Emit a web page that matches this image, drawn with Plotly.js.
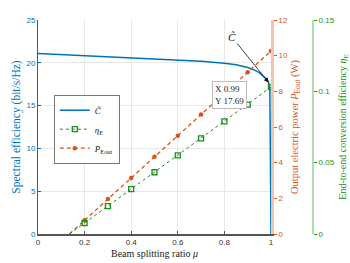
<!DOCTYPE html>
<html><head><meta charset="utf-8">
<script src="https://cdn.plot.ly/plotly-3.0.1.min.js"></script>
<style>body{margin:0;padding:0;background:#fff}#chart{width:350px;height:263px}</style>
</head><body><div id="chart"></div>
<script>
// Spectral efficiency curve
var muC = [0, 0.1, 0.2, 0.3, 0.4, 0.5, 0.6, 0.7, 0.8, 0.85, 0.9, 0.93, 0.95, 0.97, 0.98, 0.99, 0.995, 1.0];
var C   = [21.1, 20.97, 20.83, 20.72, 20.6, 20.47, 20.33, 20.17, 19.95, 19.78, 19.45, 19.15, 18.85, 18.4, 18.1, 17.69, 17.0, 0];
// marker positions
var muM = [0.2, 0.3, 0.4, 0.5, 0.6, 0.7, 0.8, 0.9, 1.0];
var P   = [0.77, 1.96, 3.14, 4.33, 5.51, 6.70, 7.89, 9.07, 10.26];
var eta = [0.0077, 0.0196, 0.0314, 0.0433, 0.0551, 0.0670, 0.0789, 0.0907, 0.1030];
var muStart = 0.135; // zero crossing of P and eta
var tipX = 0.99, tipY = 17.69;

var blue = '#0072BD', orange = '#D95319', green = '#1a8f1a';
var serif = 'Liberation Serif, DejaVu Serif, serif';
var sans = 'Liberation Sans, Arial, sans-serif';

var traces = [
  {x: muC, y: C, type: 'scatter', mode: 'lines', name: '<i>C&#771;</i>',
   line: {color: blue, width: 1.5}, xaxis: 'x', yaxis: 'y'},
  {x: [muStart, muM[0]], y: [0, eta[0]], type: 'scatter', mode: 'lines', showlegend: false,
   line: {color: green, width: 1, dash: 'dot'}, yaxis: 'y3'},
  {x: muM, y: eta, type: 'scatter', mode: 'lines+markers', name: '<i>η</i><sub>E</sub>',
   line: {color: green, width: 1, dash: 'dot'},
   marker: {symbol: 'square-open', size: 5, color: green, line: {width: 1.3, color: green}}, yaxis: 'y3'},
  {x: [muStart, muM[0]], y: [0, P[0]], type: 'scatter', mode: 'lines', showlegend: false,
   line: {color: orange, width: 1.3, dash: '4px,3px'}, yaxis: 'y2'},
  {x: muM, y: P, type: 'scatter', mode: 'lines+markers', name: '<i>P</i><sub>Eout</sub>',
   line: {color: orange, width: 1.3, dash: '4px,3px'},
   marker: {symbol: 'circle', size: 4.5, color: orange}, yaxis: 'y2'}
];

var L = 38, R = 20, W = 350;
var pw = W - L - R;
var xEnd = (271 - L) / pw;
var y3pos = (313 - L) / pw;

var layout = {
  width: 350, height: 263,
  margin: {l: L, r: R, t: 20, b: 29},
  paper_bgcolor: '#fff', plot_bgcolor: '#fff',
  showlegend: true,
  legend: {x: (54 - L) / pw, y: 0.65, xanchor: 'left', yanchor: 'top',
    bgcolor: '#fff', bordercolor: '#555', borderwidth: 0.8,
    font: {family: serif, size: 9, color: '#222'}, tracegroupgap: 0, itemwidth: 30},
  xaxis: {domain: [0, xEnd], range: [0, 1], tickvals: [0, 0.2, 0.4, 0.6, 0.8, 1],
    ticktext: ['0', '0.2', '0.4', '0.6', '0.8', '1'],
    showgrid: true, gridcolor: '#e8e8e8', gridwidth: 1, zeroline: false,
    showline: true, linecolor: '#555', linewidth: 1.5, ticks: 'inside', ticklen: 3, tickcolor: '#555',
    tickfont: {family: sans, size: 8, color: '#333'},
    title: {text: 'Beam splitting ratio <i>μ</i>', font: {family: serif, size: 10, color: '#222'}, standoff: 4}},
  yaxis: {range: [0, 25], tickvals: [0, 5, 10, 15, 20, 25],
    showgrid: true, gridcolor: '#e8e8e8', zeroline: false,
    showline: true, linecolor: blue, linewidth: 1, ticks: 'inside', ticklen: 3, tickcolor: blue,
    tickfont: {family: sans, size: 8, color: blue},
    title: {text: 'Spectral efficiency (bit/s/Hz)', font: {family: serif, size: 11.5, color: blue}, standoff: 3}},
  yaxis2: {overlaying: 'y', side: 'right', anchor: 'x', range: [0, 12], tickvals: [0, 2, 4, 6, 8, 10, 12],
    showgrid: false, zeroline: false,
    showline: true, linecolor: 'rgba(217,83,25,0.35)', linewidth: 3, ticks: 'outside', ticklen: 3, tickcolor: orange,
    tickfont: {family: sans, size: 8, color: orange},
    title: {text: 'Output electric power <i>P</i><sub>Eout</sub> (W)', font: {family: serif, size: 10.5, color: orange}, standoff: 4}},
  yaxis3: {overlaying: 'y', side: 'right', anchor: 'free', position: y3pos, range: [0, 0.15],
    tickvals: [0, 0.05, 0.1, 0.15], ticktext: ['0', '0.05', '0.1', '0.15'],
    showgrid: false, zeroline: false,
    showline: true, linecolor: 'rgba(26,154,26,0.35)', linewidth: 2, ticks: 'outside', ticklen: 3, tickcolor: green,
    tickfont: {family: sans, size: 8, color: green},
    title: {text: 'End-to-end conversion efficiency <i>η</i><sub>E</sub>', font: {family: serif, size: 10, color: green}, standoff: 4}},
  annotations: [
    {x: tipX, y: tipY, xref: 'x', yref: 'y', text: '<i>C&#771;</i>', showarrow: true,
     ax: -37, ay: -46, arrowhead: 2, arrowsize: 1.2, arrowwidth: 0.8, arrowcolor: '#111',
     font: {family: serif, size: 11, color: '#111'}},
    {x: tipX, y: tipY, xref: 'x', yref: 'y', text: 'X 0.99<br>Y 17.69', showarrow: false,
     xanchor: 'right', yanchor: 'top', xshift: -22, yshift: 2, align: 'left',
     bgcolor: '#fff', bordercolor: '#bbb', borderwidth: 1, borderpad: 2,
     font: {family: serif, size: 9, color: '#222'}}
  ]
};

Plotly.newPlot('chart', traces, layout, {displayModeBar: false, staticPlot: true});
</script></body></html>
